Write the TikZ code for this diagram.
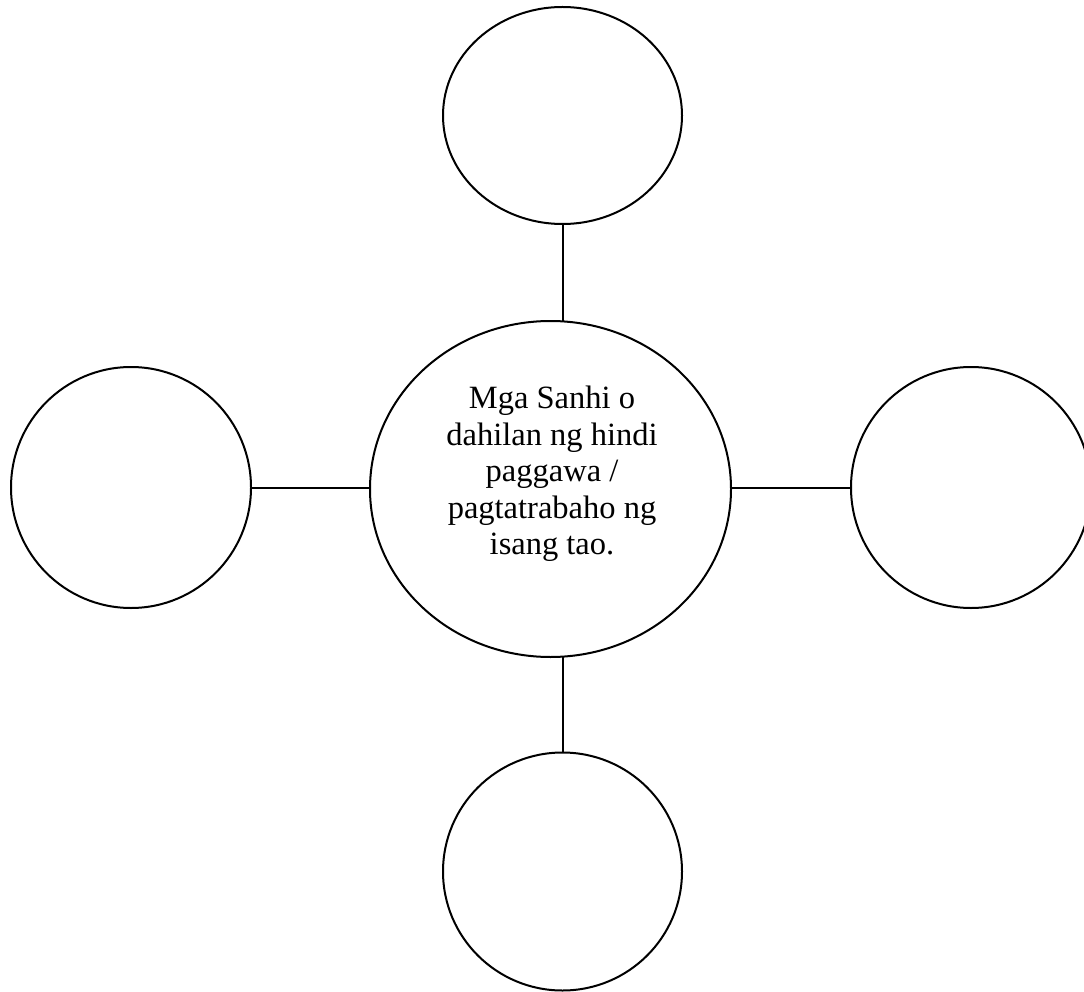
\documentclass[tikz,border=0pt]{standalone}
\usepackage{fontspec}
\setmainfont{Liberation Serif}
\usetikzlibrary{shapes.geometric}
\begin{document}
\begin{tikzpicture}[x=1pt,y=-1pt,
  bubble/.style={draw=black, line width=2pt, ellipse, inner sep=0pt, outer sep=0pt, fill=white},
  link/.style={draw=black, line width=2pt},
  label/.style={align=center, inner sep=0pt, font=\fontsize{32.5}{36.5}\selectfont}]
\useasboundingbox[fill=white] (0,0) rectangle (1084,992);
\node[bubble, minimum width=361pt, minimum height=336pt] (c) at (550.5,489) {};
\node[bubble, minimum width=239pt, minimum height=217pt] (top) at (562.5,115.5) {};
\node[bubble, minimum width=239pt, minimum height=238pt] (bot) at (562.5,871.5) {};
\node[bubble, minimum width=240pt, minimum height=241pt] (lft) at (131,487.5) {};
\node[bubble, minimum width=240pt, minimum height=241pt] (rgt) at (971,487.5) {};
\node[label] (txt) at (552,474) {Mga Sanhi o\\dahilan ng hindi\\paggawa /\\pagtatrabaho ng\\isang tao.};
\draw[link] (top.south) -- (top.south |- c.north);
\draw[link] (bot.north) -- (bot.north |- c.south);
\draw[link] (lft.east) -- (lft.east -| c.west);
\draw[link] (rgt.west) -- (rgt.west -| c.east);
\end{tikzpicture}
\end{document}
